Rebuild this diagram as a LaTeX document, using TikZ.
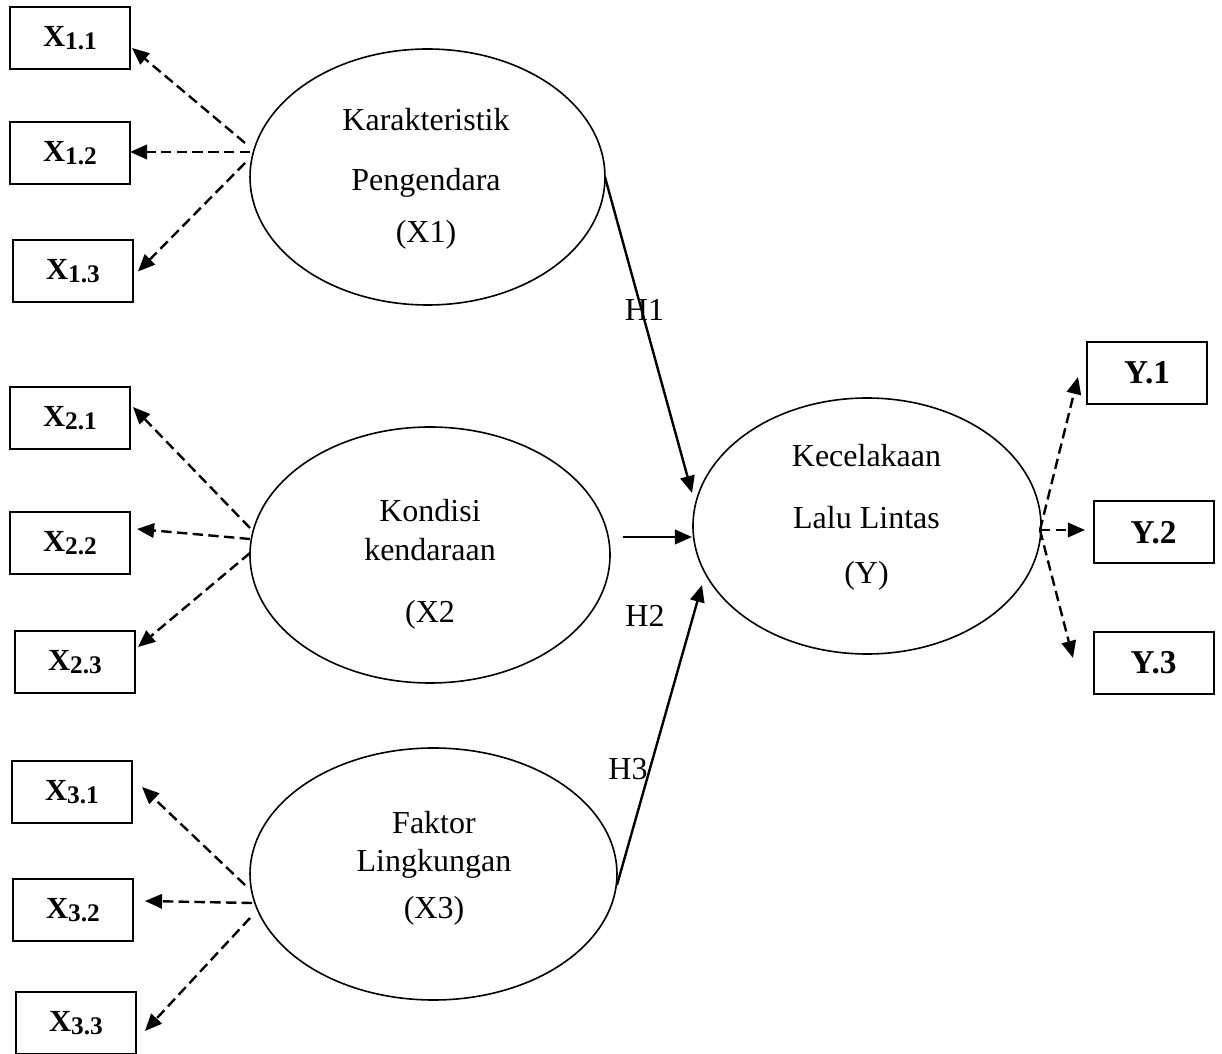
\documentclass[tikz,border=0pt]{standalone}
\usepackage{fontspec}
\setmainfont{Liberation Serif}
\usetikzlibrary{shapes.geometric,arrows.meta}

\newcommand{\xind}[2]{{\fontsize{11.5}{13}\selectfont\bfseries X}\raisebox{-1.2pt}{\fontsize{9.5}{11}\selectfont\bfseries #1.#2}}

\begin{document}
\begin{tikzpicture}[x=0.375pt, y=-0.375pt,
  box/.style={draw, line width=0.75pt, minimum width=45pt, minimum height=23.25pt, inner sep=0pt, outer sep=0pt, font=\bfseries\fontsize{12.5}{14}\selectfont},
  latent/.style={draw, ellipse, line width=0.6pt, inner sep=0pt, outer sep=0pt},
  txt/.style={align=center, anchor=north, inner sep=0pt, font=\fontsize{12}{14}\selectfont},
  hyp/.style={anchor=base, inner sep=0pt, font=\fontsize{12}{14}\selectfont},
  load/.style={-{Triangle[length=6.4pt,width=5.4pt]}, line width=0.9pt, dash pattern=on 3.9pt off 2pt},
  effect/.style={-{Triangle[length=6.4pt,width=5.4pt]}, line width=0.9pt}]
\useasboundingbox (0,0) rectangle (1222,1054);

\node[box] (x11) at (70,38.5) {\xind{1}{1}};
\node[box] (x12) at (70,153.5) {\xind{1}{2}};
\node[box] (x13) at (73,271.5) {\xind{1}{3}};
\node[box] (x21) at (70,418) {\xind{2}{1}};
\node[box] (x22) at (70,543) {\xind{2}{2}};
\node[box] (x23) at (75,662.5) {\xind{2}{3}};
\node[box] (x31) at (72,792) {\xind{3}{1}};
\node[box] (x32) at (73,910) {\xind{3}{2}};
\node[box] (x33) at (76,1023) {\xind{3}{3}};

\node[box] (y1) at (1147,373) {Y.1};
\node[box] (y2) at (1153.5,532.5) {Y.2};
\node[box] (y3) at (1153.5,663) {Y.3};

\node[latent, minimum width=133.1pt, minimum height=96pt] (x1) at (427.5,177) {};
\node[latent, minimum width=135pt, minimum height=96pt] (x2) at (430,555) {};
\node[latent, minimum width=137.6pt, minimum height=94.5pt] (x3) at (433.5,874) {};
\node[latent, minimum width=130.5pt, minimum height=96pt] (y) at (867,526) {};

\node[txt] (x1txt) at (426,108) {Karakteristik\\[8.5pt] Pengendara\\[5.5pt] (X1)};
\node[txt] (x2txt) at (430,499) {Kondisi\\[0.6pt] kendaraan\\[9.25pt] (X2};
\node[txt] (x3txt) at (434,811) {Faktor\\[0.25pt] Lingkungan\\[3.6pt] (X3)};
\node[txt] (ytxt) at (866.5,444) {Kecelakaan\\[9.25pt] Lalu Lintas\\[6.6pt] (Y)};

\draw[load] ([shift={(-5,-34)}]x1.west) -- ([shift={(2,9.5)}]x11.east);
\draw[load] ([shift={(0,-25)}]x1.west) -- ([shift={(0,-1.5)}]x12.east);
\draw[load] ([shift={(-5,-14)}]x1.west) -- ([shift={(5,0)}]x13.east);

\draw[load] ([shift={(0,-27)}]x2.west) -- ([shift={(3,-11)}]x21.east);
\draw[load] ([shift={(0,-16)}]x2.west) -- ([shift={(7,-14)}]x22.east);
\draw[load] ([shift={(0,-2)}]x2.west) -- ([shift={(3,-15.5)}]x23.east);

\draw[load] ([shift={(-5,11)}]x3.west) -- ([shift={(10,-5)}]x31.east);
\draw[load] ([shift={(2,29)}]x3.west) -- ([shift={(12,-9)}]x32.east);
\draw[load] ([shift={(0,44)}]x3.west) -- ([shift={(9,8)}]x33.east);

\draw[load] ([shift={(-1,4)}]y.east) -- ([shift={(-9,4)}]y1.west);
\draw[load] ([shift={(-1,4)}]y.east) -- ([shift={(-8.5,-2.5)}]y2.west);
\draw[load] ([shift={(-1,4)}]y.east) -- ([shift={(-20.5,-5)}]y3.west);

\draw[effect] (x1.east) -- ([shift={(-1,-33)}]y.west);
\draw[effect] ([shift={(13,-18)}]x2.east) -- ([shift={(-1,11)}]y.west);
\draw[effect] ([shift={(0,11)}]x3.east) -- ([shift={(9,59)}]y.west);

\node[hyp] (h1) at (644.5,321) {H1};
\node[hyp] (h2) at (645,627) {H2};
\node[hyp] (h3) at (628,780) {H3};
\end{tikzpicture}
\end{document}
